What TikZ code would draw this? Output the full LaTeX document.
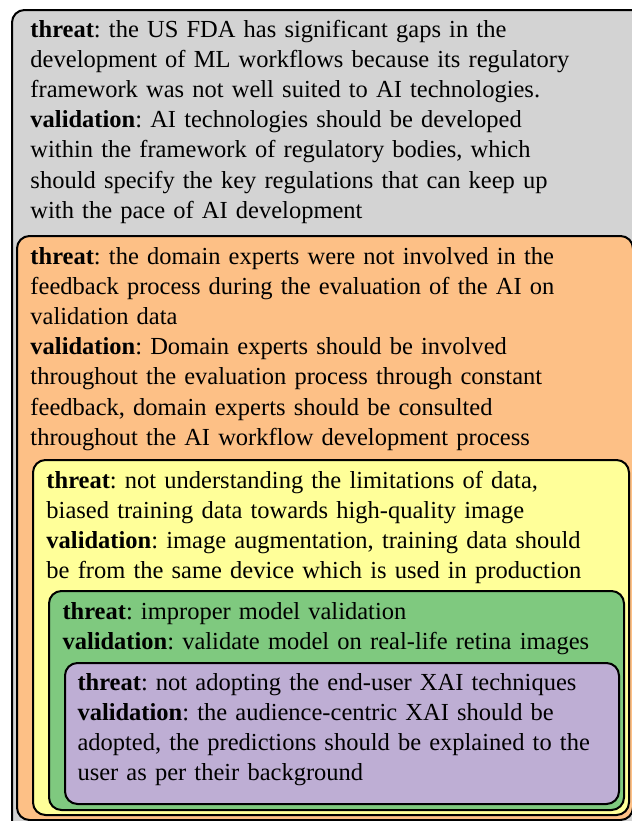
\documentclass[tikz,border=0pt]{standalone}
\usepackage{fontspec}
\setmainfont{Liberation Serif}
\usepackage{tikz}
\frenchspacing

\definecolor{boxgray}{HTML}{D3D3D3}
\definecolor{boxorange}{HTML}{FDC086}
\definecolor{boxyellow}{HTML}{FFFF99}
\definecolor{boxgreen}{HTML}{7FC97F}
\definecolor{boxpurple}{HTML}{BEAED4}

\begin{document}
\begin{tikzpicture}[x=0.4pt,y=-0.4pt,
  layer/.style={draw=black,line width=0.8pt,rounded corners=5pt},
  txt/.style={anchor=base west,inner sep=0pt,text width=236pt,align=left,
    font=\fontsize{9.8}{12.08}\selectfont}]
  \clip (0,0) rectangle (632,821);

% nested boxes, outermost first
\draw[layer,fill=boxgray] (12,10) rectangle (660,850);
\draw[layer,fill=boxorange] (17,236) rectangle (633,820);
\draw[layer,fill=boxyellow] (33,460) rectangle (629,815);
\draw[layer,fill=boxgreen] (49,591) rectangle (624,810);
\draw[layer,fill=boxpurple] (65,663) rectangle (619,804);

\node[txt] (regulation) at (30,37) {\textbf{threat}: the US FDA has significant gaps in the\\
development of ML workflows because its regulatory\\
framework was not well suited to AI technologies.\\
\textbf{validation}: AI technologies should be developed\\
within the framework of regulatory bodies, which\\
should specify the key regulations that can keep up\\
with the pace of AI development};

\node[txt] (experts) at (30,264) {\textbf{threat}: the domain experts were not involved in the\\
feedback process during the evaluation of the AI on\\
validation data\\
\textbf{validation}: Domain experts should be involved\\
throughout the evaluation process through constant\\
feedback, domain experts should be consulted\\
throughout the AI workflow development process};

\node[txt] (data) at (46,488) {\textbf{threat}: not understanding the limitations of data,\\
biased training data towards high-quality image\\
\textbf{validation}: image augmentation, training data should\\
be from the same device which is used in production};

\node[txt] (model) at (62,619) {\textbf{threat}: improper model validation\\
\textbf{validation}: validate model on real-life retina images};

\node[txt] (xai) at (77,690) {\textbf{threat}: not adopting the end-user XAI techniques\\
\textbf{validation}: the audience-centric XAI should be\\
adopted, the predictions should be explained to the\\
user as per their background};

\end{tikzpicture}
\end{document}
